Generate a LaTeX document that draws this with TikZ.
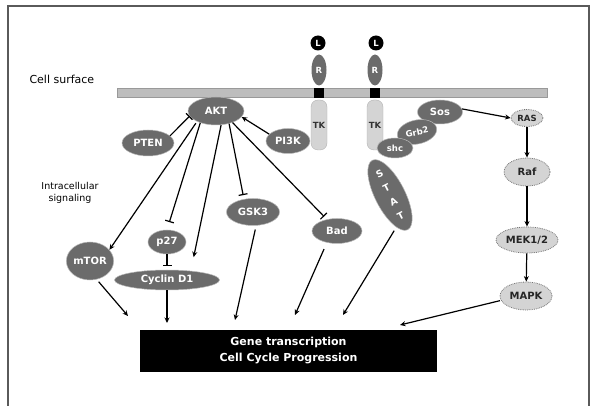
\documentclass[tikz,border=0pt]{standalone}
\usepackage{fontspec}
\setmainfont{DejaVu Sans}
\usetikzlibrary{shapes.geometric,arrows.meta,calc}
\definecolor{darkn}{HTML}{6B6B6B}
\definecolor{lightn}{HTML}{D4D4D4}
\definecolor{memb}{HTML}{BDBDBD}
\definecolor{frameg}{HTML}{5A5A5A}
\tikzset{
  dnode/.style={ellipse, fill=darkn, draw=gray!55, line width=0.5pt, text=white,
    font=\bfseries\fontsize{10}{11}\selectfont, inner sep=0pt},
  lnode/.style={ellipse, fill=lightn, draw=gray!90!black, densely dotted, line width=0.8pt,
    text=black!85, font=\bfseries\fontsize{10}{11}\selectfont, inner sep=0pt},
  tkpart/.style={rounded corners=7pt, fill=lightn, draw=gray!60, line width=0.4pt,
    text=black!80, font=\bfseries\fontsize{8.5}{9}\selectfont, inner sep=0pt,
    minimum width=16pt, minimum height=50pt},
  rpart/.style={ellipse, fill=darkn, text=white, font=\bfseries\fontsize{8.5}{9}\selectfont,
    inner sep=0pt, minimum width=15pt, minimum height=31pt},
  lig/.style={circle, fill=black, text=white, font=\bfseries\fontsize{8.5}{9}\selectfont,
    inner sep=0pt, minimum size=15pt},
  jm/.style={fill=black, inner sep=0pt, minimum width=10pt, minimum height=10pt},
  conn/.style={line width=1.2pt, black},
  act/.style={conn, -{Stealth[length=5.5pt,width=5pt]}},
  inh/.style={conn, -{Bar[width=9pt,line width=1.2pt]}},
}
\begin{document}
\begin{tikzpicture}[x=1pt,y=-1pt]
\useasboundingbox (0,0) rectangle (592,406);
% frame
\draw[frameg, line width=1.3pt] (8,407) -- (8,6) -- (589,6) -- (589,407);
% membrane
\node[fill=memb, draw=gray!80, line width=0.5pt, inner sep=0pt,
  minimum width=430pt, minimum height=9pt] (membrane) at (332,92.5) {};
% receptors
\node[tkpart] (tk1) at (319,125) {TK};
\node[tkpart] (tk2) at (375,125) {TK};
\node[jm] (jm1) at (319,93) {};
\node[jm] (jm2) at (375,93) {};
\node[rpart] (r1) at (319,70) {R};
\node[rpart] (r2) at (375,70) {R};
\node[lig] (l1) at (318,43) {L};
\node[lig] (l2) at (376,43) {L};
% labels
\node[anchor=west, font=\fontsize{11}{13}\selectfont] (cs) at (26,79) {Cell surface};
\node[align=center, font=\fontsize{9.5}{12}\selectfont] (ic) at (70,193) {Intracellular\\signaling};
% AKT pathway
\node[dnode, minimum width=56pt, minimum height=28pt] (akt) at (216,111) {AKT};
\node[dnode, minimum width=52pt, minimum height=26pt] (pten) at (148,143) {PTEN};
\node[dnode, minimum width=44pt, minimum height=25pt] (pi3k) at (288,141) {PI3K};
\node[dnode, minimum width=46pt, minimum height=38pt] (mtor) at (90,261) {mTOR};
\node[dnode, minimum width=38pt, minimum height=24pt] (p27) at (167,242) {p27};
\node[dnode, minimum width=105pt, minimum height=20pt] (cyclin) at (167,280) {Cyclin D1};
\node[dnode, minimum width=53pt, minimum height=27pt] (gsk) at (253,212) {GSK3};
\node[dnode, minimum width=50pt, minimum height=25pt] (bad) at (337,231) {Bad};
% STAT
\node[dnode, minimum width=30pt, minimum height=78pt, rotate=27, align=center,
  font=\bfseries\fontsize{9.5}{15.5}\selectfont] (stat) at (390,195) {S\\T\\A\\T};
% adaptor complex
\node[dnode, minimum width=45pt, minimum height=24pt] (sos) at (440,112) {Sos};
\node[dnode, minimum width=40pt, minimum height=24pt, rotate=12,
  font=\bfseries\fontsize{8.5}{9}\selectfont] (grb2) at (417,132) {Grb2};
\node[dnode, minimum width=36pt, minimum height=20pt,
  font=\bfseries\fontsize{8.5}{9}\selectfont] (shc) at (395,148) {shc};
% MAPK cascade
\node[lnode, minimum width=32pt, minimum height=17pt, font=\bfseries\fontsize{8.5}{9}\selectfont] (ras) at (527,118) {RAS};
\node[lnode, minimum width=46pt, minimum height=28pt] (raf) at (527,172) {Raf};
\node[lnode, minimum width=62pt, minimum height=26pt] (mek) at (527,240) {MEK1/2};
\node[lnode, minimum width=52pt, minimum height=28pt] (mapk) at (526,296) {MAPK};
% gene box
\node[fill=black, text=white, inner sep=0pt, minimum width=297pt, minimum height=42pt,
  align=center, font=\bfseries\fontsize{11}{16}\selectfont] (gene) at (288.5,351)
  {Gene transcription\\Cell Cycle Progression};
% arrow end points
\coordinate (g1) at (128,316);
\coordinate (g2) at (167,323);
\coordinate (g3) at (235,320);
\coordinate (g4) at (295,315);
\coordinate (g5) at (343,315);
\coordinate (g6) at (400,325);
% connectors
\draw[inh] (pten.18) -- (akt.191);
\draw[act] (pi3k.160) -- (akt.347);
\draw[act, shorten <=2pt] (akt.209) -- (mtor.30);
\draw[inh, shorten >=8pt] (akt.217) -- (p27.north);
\draw[act, shorten >=14pt] (akt.290) -- (cyclin.21);
\draw[inh, shorten >=4pt] (akt.316) -- (gsk.125);
\draw[inh, shorten >=4pt] (akt.325) -- (bad.131);
\draw[inh, shorten >=4pt] (p27.south) -- (cyclin.north);
\draw[act, shorten <=3pt] (mtor.290) -- (g1);
\draw[act] (cyclin) -- (g2);
\draw[act, shorten <=4pt] (gsk.283) -- (g3);
\draw[act, shorten <=7pt] (bad.229) -- (g4);
\draw[act, shorten <=4pt] (stat.254) -- (g5);
\draw[act, shorten <=1pt] (mapk.190) -- (g6);
\draw[act] (sos.8) -- (ras.west);
\draw[act] (ras) -- (raf);
\draw[act] (raf) -- (mek);
\draw[act] (mek) -- (mapk);
\end{tikzpicture}
\end{document}
